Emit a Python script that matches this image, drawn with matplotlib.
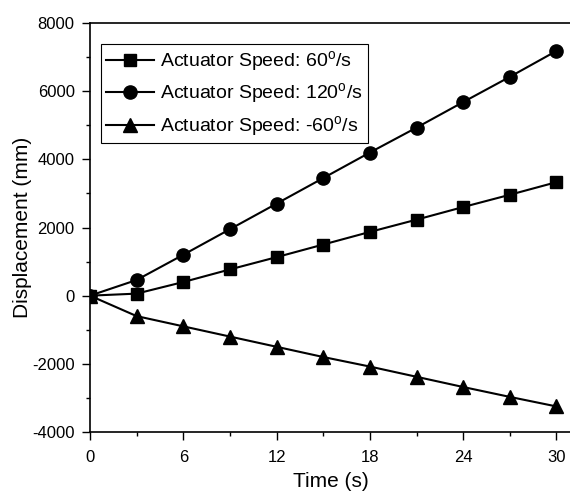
import numpy as np
import matplotlib.pyplot as plt
from matplotlib.ticker import MultipleLocator

plt.rcParams['font.family'] = ['Liberation Sans', 'DejaVu Sans']
plt.rcParams['mathtext.fontset'] = 'custom'
plt.rcParams['mathtext.rm'] = 'Liberation Sans'
plt.rcParams['axes.unicode_minus'] = False

time_s = [0, 3, 6, 9, 12, 15, 18, 21, 24, 27, 30]
disp_60 = [0, 60, 400, 770, 1130, 1500, 1870, 2230, 2600, 2960, 3330]
disp_120 = [0, 460, 1200, 1950, 2700, 3450, 4200, 4930, 5680, 6420, 7180]
disp_neg60 = [0, -600, -900, -1200, -1500, -1800, -2080, -2380, -2680, -2970, -3250]
labels = [r'Actuator Speed: 60$^\mathrm{o}$/s',
          r'Actuator Speed: 120$^\mathrm{o}$/s',
          r'Actuator Speed: -60$^\mathrm{o}$/s']

fig = plt.figure(figsize=(5.7, 4.95), dpi=100)
ax = fig.add_axes([90 / 570, 63 / 495, 482 / 570, 409 / 495])

ax.plot(time_s, disp_60, 'k-s', lw=1.5, ms=9, label=labels[0])
ax.plot(time_s, disp_120, 'k-o', lw=1.5, ms=9.5, label=labels[1])
ax.plot(time_s, disp_neg60, 'k-^', lw=1.5, ms=10, label=labels[2])

ax.set_xlim(0, 31)
ax.set_ylim(-4000, 8000)
ax.xaxis.set_major_locator(MultipleLocator(6))
ax.xaxis.set_minor_locator(MultipleLocator(3))
ax.yaxis.set_major_locator(MultipleLocator(2000))
ax.yaxis.set_minor_locator(MultipleLocator(1000))
ax.tick_params(which='both', direction='out', labelsize=12, width=1)
ax.tick_params(which='major', length=6, pad=5)
ax.tick_params(axis='x', which='major', pad=7)
ax.tick_params(which='minor', length=3)
ax.spines['right'].set_visible(False)
for s in ['left', 'bottom', 'top']:
    ax.spines[s].set_linewidth(1.2)

ax.set_xlabel('Time (s)', fontsize=15, labelpad=5)
ax.set_ylabel('Displacement (mm)', fontsize=15, labelpad=0)

leg = ax.legend(loc='upper left', fontsize=14, fancybox=False, edgecolor='black',
                framealpha=1, handlelength=2.5, handletextpad=0.3,
                labelspacing=0.4, borderpad=0.25, borderaxespad=0,
                bbox_to_anchor=(11 / 482, 1 - 21 / 409))
leg.get_frame().set_linewidth(0.8)

fig.savefig('out.png', dpi=100)
